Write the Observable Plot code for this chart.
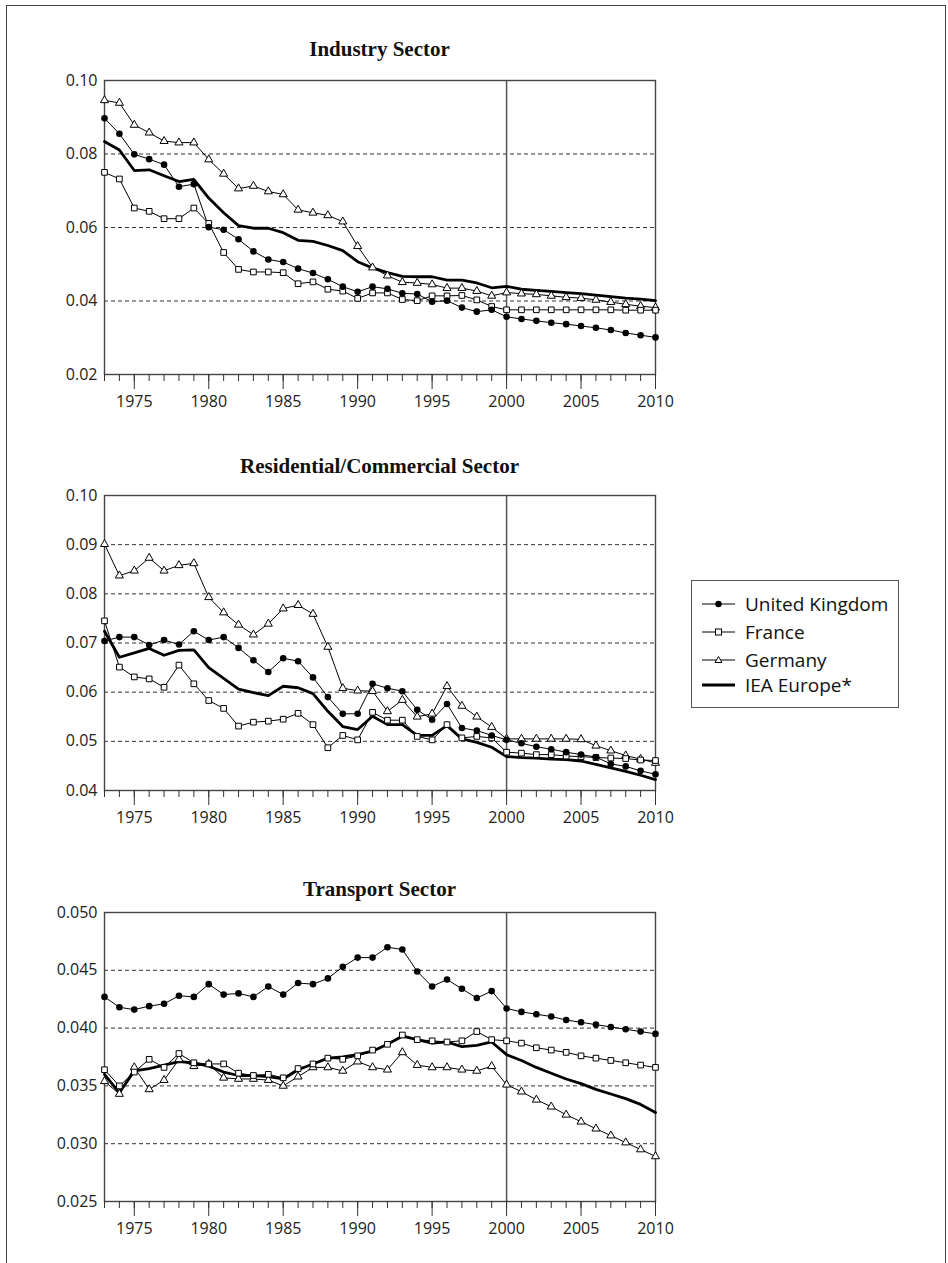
<!DOCTYPE html>
<html>
<head>
<meta charset="utf-8">
<script src="https://cdn.jsdelivr.net/npm/d3@7"></script>
<script src="https://cdn.jsdelivr.net/npm/@observablehq/plot@0.6"></script>
<style>
  html, body { margin: 0; padding: 0; background: #fff; }
  #root { position: relative; width: 948px; height: 1263px; overflow: hidden; }
  .border { position: absolute; left: 6px; top: 5px; width: 938px; height: 1300px; border: 1.5px solid #444; }
  .title { position: absolute; width: 600px; text-align: center; font-family: "Liberation Serif", serif; font-weight: bold; font-size: 21px; color: #111; line-height: 1; }
  .panel { position: absolute; left: 0; }
  .legend { position: absolute; left: 691px; top: 580px; width: 206px; height: 126px; border: 1.5px solid #555; font-family: "Open Sans", sans-serif; font-size: 19px; color: #111; }
  .legend .row { position: absolute; left: 0; height: 24px; display: flex; align-items: center; }
  .legend .row span { margin-left: 10px; white-space: nowrap; }
</style>
</head>
<body>
<div id="root">
  <div class="border"></div>
</div>
<script>
const years = [1973,1974,1975,1976,1977,1978,1979,1980,1981,1982,1983,1984,1985,1986,1987,1988,1989,1990,
  1991,1992,1993,1994,1995,1996,1997,1998,1999,2000,2001,2002,2003,2004,2005,2006,2007,2008,2009,2010];
const majorYears = [1975,1980,1985,1990,1995,2000,2005,2010];
const seriesNames = ["United Kingdom", "France", "Germany", "IEA Europe*"];
const panelTitles = ["Industry Sector", "Residential/Commercial Sector", "Transport Sector"];

// Industry sector
const industryUK = [0.0897,0.0855,0.0799,0.0786,0.0771,0.0711,0.0718,0.0601,0.0594,0.0568,0.0535,0.0513,0.0506,0.0488,0.0476,0.0459,0.0439,0.0425,
  0.0439,0.0433,0.0421,0.0419,0.0398,0.0401,0.0382,0.0371,0.0376,0.0357,0.0351,0.0346,0.0341,0.0337,0.0332,0.0327,0.0321,0.0313,0.0307,0.0301];
const industryFR = [0.0750,0.0732,0.0653,0.0644,0.0624,0.0624,0.0653,0.0611,0.0532,0.0486,0.0479,0.0479,0.0477,0.0447,0.0452,0.0432,0.0427,0.0407,
  0.0422,0.0422,0.0404,0.0401,0.0414,0.0414,0.0415,0.0403,0.0385,0.0376,0.0376,0.0376,0.0376,0.0376,0.0376,0.0376,0.0376,0.0375,0.0375,0.0375];
const industryDE = [0.0946,0.0939,0.0879,0.0858,0.0835,0.0831,0.0831,0.0785,0.0746,0.0706,0.0713,0.0698,0.0690,0.0648,0.0640,0.0633,0.0616,0.0549,
  0.0491,0.0469,0.0451,0.0449,0.0445,0.0435,0.0435,0.0427,0.0414,0.0423,0.0420,0.0418,0.0414,0.0410,0.0408,0.0403,0.0397,0.0391,0.0386,0.0382];
const industryIEA = [0.0834,0.0811,0.0755,0.0757,0.0741,0.0725,0.0731,0.0680,0.0640,0.0605,0.0598,0.0598,0.0586,0.0565,0.0562,0.0551,0.0537,0.0507,
  0.0490,0.0477,0.0467,0.0466,0.0466,0.0457,0.0457,0.0449,0.0436,0.0440,0.0432,0.0429,0.0426,0.0423,0.0420,0.0416,0.0412,0.0408,0.0405,0.0401];

// Residential/Commercial sector
const residentialUK = [0.0704,0.0712,0.0712,0.0696,0.0706,0.0697,0.0724,0.0706,0.0712,0.0690,0.0665,0.0641,0.0669,0.0663,0.0630,0.0590,0.0556,0.0556,
  0.0617,0.0608,0.0602,0.0564,0.0544,0.0576,0.0527,0.0522,0.0512,0.0503,0.0496,0.0489,0.0484,0.0478,0.0473,0.0468,0.0454,0.0449,0.0440,0.0433];
const residentialFR = [0.0745,0.0651,0.0631,0.0627,0.0610,0.0655,0.0617,0.0583,0.0567,0.0531,0.0539,0.0541,0.0545,0.0557,0.0534,0.0487,0.0512,0.0503,
  0.0559,0.0543,0.0543,0.0510,0.0503,0.0534,0.0507,0.0510,0.0507,0.0478,0.0476,0.0473,0.0473,0.0470,0.0469,0.0467,0.0466,0.0465,0.0462,0.0461];
const residentialDE = [0.0901,0.0837,0.0847,0.0873,0.0847,0.0858,0.0862,0.0793,0.0762,0.0737,0.0717,0.0739,0.0770,0.0777,0.0759,0.0692,0.0608,0.0603,
  0.0602,0.0561,0.0584,0.0550,0.0556,0.0612,0.0572,0.0550,0.0529,0.0505,0.0505,0.0505,0.0505,0.0505,0.0504,0.0491,0.0481,0.0471,0.0464,0.0456];
const residentialIEA = [0.0724,0.0671,0.0680,0.0689,0.0675,0.0685,0.0686,0.0650,0.0628,0.0606,0.0599,0.0593,0.0612,0.0609,0.0597,0.0561,0.0530,0.0524,
  0.0551,0.0534,0.0534,0.0512,0.0512,0.0532,0.0505,0.0498,0.0488,0.0469,0.0467,0.0466,0.0464,0.0463,0.0460,0.0453,0.0446,0.0439,0.0431,0.0422];

// Transport sector
const transportUK = [0.0427,0.0418,0.0416,0.0419,0.0421,0.0428,0.0427,0.0438,0.0429,0.0430,0.0427,0.0436,0.0429,0.0439,0.0438,0.0443,0.0453,0.0461,
  0.0461,0.0470,0.0468,0.0449,0.0436,0.0442,0.0434,0.0426,0.0432,0.0417,0.0414,0.0412,0.0410,0.0407,0.0405,0.0403,0.0401,0.0399,0.0397,0.0395];
const transportFR = [0.0364,0.0350,0.0362,0.0373,0.0366,0.0378,0.0370,0.0369,0.0369,0.0361,0.0359,0.0360,0.0357,0.0365,0.0369,0.0374,0.0373,0.0376,
  0.0381,0.0386,0.0394,0.0390,0.0389,0.0388,0.0389,0.0397,0.0390,0.0389,0.0387,0.0383,0.0381,0.0379,0.0376,0.0374,0.0372,0.0370,0.0368,0.0366];
const transportDE = [0.0354,0.0343,0.0366,0.0347,0.0355,0.0373,0.0367,0.0369,0.0357,0.0356,0.0356,0.0355,0.0350,0.0358,0.0366,0.0366,0.0363,0.0371,
  0.0366,0.0364,0.0379,0.0368,0.0366,0.0366,0.0364,0.0363,0.0367,0.0351,0.0345,0.0338,0.0332,0.0325,0.0319,0.0313,0.0307,0.0301,0.0295,0.0289];
const transportIEA = [0.0360,0.0344,0.0363,0.0365,0.0368,0.0371,0.0370,0.0367,0.0362,0.0359,0.0359,0.0358,0.0356,0.0364,0.0369,0.0374,0.0375,0.0377,
  0.0380,0.0386,0.0393,0.0390,0.0387,0.0388,0.0384,0.0385,0.0388,0.0377,0.0372,0.0366,0.0361,0.0356,0.0352,0.0347,0.0343,0.0339,0.0334,0.0327];

// y-axis ticks per panel
const industryTicks = [0.02,0.04,0.06,0.08,0.10];
const residentialTicks = [0.04,0.05,0.06,0.07,0.08,0.09,0.10];
const transportTicks = [0.025,0.030,0.035,0.040,0.045,0.050];

const root = document.getElementById("root");

function rows(vals) { return years.map((yr, i) => ({year: yr, value: vals[i]})); }

function makePanel({title, uk, fr, de, iea, ticks, fmt, plotTop, plotH, titleBaseline}) {
  const t = document.createElement("div");
  t.className = "title";
  t.textContent = title;
  t.style.left = (379.5 - 300) + "px";
  t.style.top = (titleBaseline - 17) + "px";
  root.appendChild(t);

  const yMin = ticks[0], yMax = ticks[ticks.length - 1];
  const grid = ticks.slice(1, -1);
  const mT = 20, mB = 45;
  const chart = Plot.plot({
    width: 700,
    height: mT + plotH + mB,
    marginLeft: 104, marginRight: 45, marginTop: mT, marginBottom: mB,
    x: {domain: [1973, 2010], label: null},
    y: {domain: [yMin, yMax], label: null},
    style: {fontFamily: "'Open Sans', sans-serif", fontSize: "16px", color: "#222", background: "transparent", overflow: "visible"},
    marks: [
      Plot.ruleY(grid, {stroke: "#333", strokeWidth: 1, strokeDasharray: "4,3"}),
      Plot.ruleX([2000], {stroke: "#555", strokeWidth: 1.5}),
      Plot.frame({stroke: "#444", strokeWidth: 1.4}),
      Plot.axisY(ticks, {tickSize: 0, tickPadding: 7, tickFormat: fmt, fontSize: 16, fill: "#222"}),
      Plot.axisX(years, {tickSize: 7, tickFormat: () => "", stroke: "#333"}),
      Plot.axisX(majorYears, {tickSize: 15, tickPadding: 6, tickFormat: d => String(d), fontSize: 16, stroke: "#333", fill: "#222"}),
      Plot.line(rows(iea), {x: "year", y: "value", stroke: "black", strokeWidth: 2.8}),
      Plot.line(rows(de), {x: "year", y: "value", stroke: "black", strokeWidth: 1}),
      Plot.line(rows(fr), {x: "year", y: "value", stroke: "black", strokeWidth: 1}),
      Plot.line(rows(uk), {x: "year", y: "value", stroke: "black", strokeWidth: 1}),
      Plot.dot(rows(de), {x: "year", y: "value", symbol: "triangle", r: 3.0, fill: "white", stroke: "black", strokeWidth: 1}),
      Plot.dot(rows(fr), {x: "year", y: "value", symbol: "square", r: 3.2, fill: "white", stroke: "black", strokeWidth: 1}),
      Plot.dot(rows(uk), {x: "year", y: "value", r: 3.3, fill: "black", stroke: "none"})
    ]
  });
  chart.classList.add("panel");
  chart.style.top = (plotTop - mT) + "px";
  chart.style.position = "absolute";
  chart.style.left = "0px";
  root.appendChild(chart);
}

makePanel({title: panelTitles[0], uk: industryUK, fr: industryFR, de: industryDE, iea: industryIEA,
  ticks: industryTicks, fmt: d3.format(".2f"), plotTop: 80, plotH: 294, titleBaseline: 56});
makePanel({title: panelTitles[1], uk: residentialUK, fr: residentialFR, de: residentialDE, iea: residentialIEA,
  ticks: residentialTicks, fmt: d3.format(".2f"), plotTop: 495, plotH: 295, titleBaseline: 473});
makePanel({title: panelTitles[2], uk: transportUK, fr: transportFR, de: transportDE, iea: transportIEA,
  ticks: transportTicks, fmt: d3.format(".3f"), plotTop: 912, plotH: 289, titleBaseline: 896});

// Legend
const legend = document.createElement("div");
legend.className = "legend";
const rowTops = [23, 51, 79, 104];
const glyphs = [
  '<line x1="0" y1="12" x2="33" y2="12" stroke="black" stroke-width="1"/><circle cx="16.5" cy="12" r="3.2" fill="black"/>',
  '<line x1="0" y1="12" x2="33" y2="12" stroke="black" stroke-width="1"/><rect x="13.5" y="9" width="6" height="6" fill="white" stroke="black" stroke-width="1"/>',
  '<line x1="0" y1="12" x2="33" y2="12" stroke="black" stroke-width="1"/><path d="M16.5,8.5 L20,14.5 L13,14.5 Z" fill="white" stroke="black" stroke-width="1"/>',
  '<line x1="0" y1="12" x2="33" y2="12" stroke="black" stroke-width="2.8"/>'
];
seriesNames.forEach((name, i) => {
  const r = document.createElement("div");
  r.className = "row";
  r.style.top = (rowTops[i] - 12) + "px";
  r.style.left = "10px";
  r.innerHTML = '<svg width="33" height="24">' + glyphs[i] + '</svg><span>' + name + '</span>';
  legend.appendChild(r);
});
root.appendChild(legend);
</script>
</body>
</html>
